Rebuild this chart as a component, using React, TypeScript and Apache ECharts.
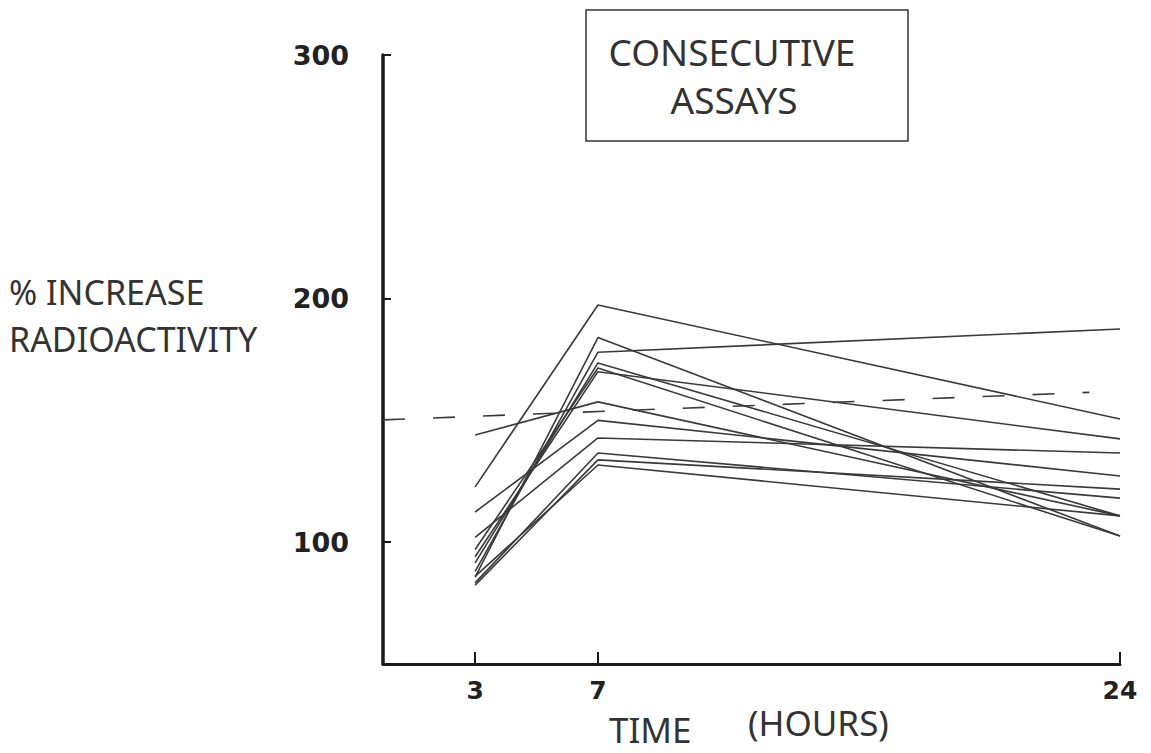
import React, { useEffect, useRef } from "react";
import * as echarts from "echarts";

const hours = [3, 7, 24];
const xTickValues = [3, 7, 24];
const yTickValues = [100, 200, 300];

const s1 = [122.7, 197.4, 150.6];
const s2 = [144, 157.6, 110.8];
const s3 = [85.7, 184, 102.5];
const s4 = [88, 178, 187.5];
const s5 = [91.5, 173.6, 110.8];
const s6 = [94, 170, 142.4];
const s7 = [97, 171.5, 102.5];
const s8 = [112.4, 150, 127.2];
const s9 = [102, 142.8, 136.6];
const s10 = [83.3, 136.6, 118.1];
const s11 = [82.4, 133.8, 121.8];
const s12 = [86, 131.7, 110.8];
const assays = [s1, s2, s3, s4, s5, s6, s7, s8, s9, s10, s11, s12];

const dashedX = [0, 23];
const dashedY = [150.2, 161.5];

export default function App() {
  const ref = useRef<HTMLDivElement>(null);
  useEffect(() => {
    if (!ref.current) return;
    const chart = echarts.init(ref.current, null, { renderer: "svg" });
    const lineColor = "#3a3a3a";
    const series: any[] = assays.map((vals, i) => ({
      type: "line",
      name: "assay" + (i + 1),
      data: vals.map((v, j) => [hours[j], v]),
      symbol: "none",
      silent: true,
      lineStyle: { color: lineColor, width: 1.6 },
    }));
    series.push({
      type: "line",
      name: "reference",
      data: dashedX.map((x, j) => [x, dashedY[j]]),
      symbol: "none",
      silent: true,
      lineStyle: { color: lineColor, width: 1.6, type: [22, 28] },
    });
    const numStyle = {
      color: "#222",
      fontFamily: "DejaVu Sans",
      fontWeight: "bold" as const,
      fontSize: 25,
    };
    const textStyle = (size: number) => `${size}px 'Noto Sans'`;
    chart.setOption({
      animation: false,
      backgroundColor: "#ffffff",
      grid: { left: 383, right: 31, top: 55, bottom: 89, containLabel: false },
      xAxis: {
        type: "value",
        min: 0,
        max: 24,
        splitLine: { show: false },
        axisLine: { show: true, lineStyle: { color: "#1a1a1a", width: 3 } },
        axisTick: {
          show: true,
          inside: true,
          length: 12,
          customValues: xTickValues,
          lineStyle: { color: "#1a1a1a", width: 2 },
        },
        axisLabel: {
          show: true,
          customValues: xTickValues,
          margin: 14,
          ...numStyle,
        },
      },
      yAxis: {
        type: "value",
        min: 50,
        max: 300,
        splitLine: { show: false },
        axisLine: { show: true, lineStyle: { color: "#1a1a1a", width: 3.5 } },
        axisTick: {
          show: true,
          inside: true,
          length: 8,
          customValues: yTickValues,
          lineStyle: { color: "#1a1a1a", width: 2 },
        },
        axisLabel: {
          show: true,
          customValues: yTickValues,
          margin: 34,
          ...numStyle,
          fontSize: 27,
        },
      },
      graphic: [
        {
          type: "rect",
          shape: { x: 586, y: 10, width: 322, height: 131 },
          style: { fill: "#fff", stroke: "#333", lineWidth: 1.5 },
          z: 10,
        },
        {
          type: "text",
          x: 732,
          y: 51,
          style: {
            text: "CONSECUTIVE",
            font: textStyle(37),
            fill: "#333",
            align: "center",
            verticalAlign: "middle",
          },
          z: 11,
        },
        {
          type: "text",
          x: 734,
          y: 99,
          style: {
            text: "ASSAYS",
            font: textStyle(37),
            fill: "#333",
            align: "center",
            verticalAlign: "middle",
          },
          z: 11,
        },
        {
          type: "text",
          x: 9,
          y: 292,
          style: {
            text: "% INCREASE",
            font: textStyle(34),
            fill: "#333",
            align: "left",
            verticalAlign: "middle",
          },
        },
        {
          type: "text",
          x: 9,
          y: 339,
          style: {
            text: "RADIOACTIVITY",
            font: textStyle(34),
            fill: "#333",
            align: "left",
            verticalAlign: "middle",
          },
        },
        {
          type: "text",
          x: 609,
          y: 729,
          style: {
            text: "TIME",
            font: textStyle(35),
            fill: "#333",
            align: "left",
            verticalAlign: "middle",
          },
        },
        {
          type: "text",
          x: 748,
          y: 722,
          style: {
            text: "(HOURS)",
            font: textStyle(35),
            fill: "#333",
            align: "left",
            verticalAlign: "middle",
          },
        },
      ],
      series,
    });
    return () => chart.dispose();
  }, []);
  return (
    <div
      ref={ref}
      style={{ position: "fixed", left: 0, top: 0, width: 1151, height: 753 }}
    />
  );
}
